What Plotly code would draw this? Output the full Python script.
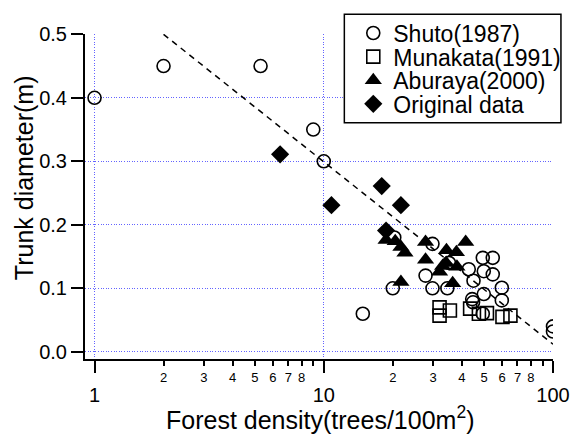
import plotly.graph_objects as go

# ---- data ----
shuto_x = [1, 2, 5.3, 9, 10, 14.8, 20, 20.3, 27.8, 29.8, 29.8, 34.6, 35.2, 42.9, 45, 44.4, 44.8,
           49.9, 49.9, 49.4, 49.4, 54.6, 54.6, 59.8, 59.8, 100, 100]
shuto_y = [0.40, 0.45, 0.45, 0.35, 0.30, 0.06, 0.10, 0.18, 0.12, 0.17, 0.10, 0.10, 0.14, 0.13, 0.112, 0.083, 0.078,
           0.127, 0.091, 0.148, 0.060, 0.148, 0.122, 0.101, 0.081, 0.040, 0.032]

munakata_x = [32.0, 32.0, 35.5, 43.5, 47.5, 51.5, 60.2, 65.2]
munakata_y = [0.070, 0.057, 0.065, 0.068, 0.060, 0.061, 0.055, 0.057]

aburaya_x = [18.7, 20.5, 21.7, 22.6, 21.7, 27.8, 27.8, 34.3, 37.9, 41.6, 34.2, 32.0, 38.1, 36.5, 33.0]
aburaya_y = [0.176, 0.174, 0.165, 0.156, 0.110, 0.173, 0.145, 0.160, 0.157, 0.173, 0.140, 0.126, 0.134, 0.108, 0.135]

orig_x = [6.45, 10.8, 17.9, 21.7, 18.7]
orig_y = [0.311, 0.231, 0.261, 0.231, 0.191]

fit_x = [2, 100]
fit_y = [0.50, 0.012]

series_names = ["Shuto(1987)", "Munakata(1991)", "Aburaya(2000)", "Original data"]

major_ticks = [1, 10, 100]
major_text = ["1", "10", "100"]
minor_ticks = [2, 3, 4, 5, 6, 7, 8, 9, 20, 30, 40, 50, 60, 70, 80, 90]
minor_text = ["2", "3", "4", "5", "6", "7", "8", "", "2", "3", "4", "5", "6", "7", "8", ""]
y_ticks = [0.0, 0.1, 0.2, 0.3, 0.4, 0.5]
y_text = ["0.0", "0.1", "0.2", "0.3", "0.4", "0.5"]

FONT = "Arial, Liberation Sans, sans-serif"
GRID = "rgb(100,100,255)"

# plot-area geometry in pixels (used to place legend rows / titles)
L, R, T, B = 85, 26, 29, 80
W, H = 582, 439
PW, PH = W - L - R, H - T - B
def px_x(p):
    return (p - L) / PW
def px_y(p):
    return (H - B - p) / PH

fig = go.Figure()
fig.add_trace(go.Scatter(x=fit_x, y=fit_y, mode="lines", showlegend=False, hoverinfo="skip",
                         line=dict(color="black", width=1.5, dash="6px,5px")))
fig.add_trace(go.Scatter(x=shuto_x, y=shuto_y, mode="markers", name=series_names[0], legend="legend",
                         marker=dict(symbol="circle-open", size=13, color="black", line=dict(width=1.6))))
fig.add_trace(go.Scatter(x=munakata_x, y=munakata_y, mode="markers", name=series_names[1], legend="legend2",
                         marker=dict(symbol="square-open", size=13, color="black", line=dict(width=1.6))))
fig.add_trace(go.Scatter(x=aburaya_x, y=aburaya_y, mode="markers", name=series_names[2], legend="legend3",
                         marker=dict(symbol="triangle-up", size=15, color="black", line=dict(width=0))))
fig.add_trace(go.Scatter(x=orig_x, y=orig_y, mode="markers", name=series_names[3], legend="legend4",
                         marker=dict(symbol="diamond", size=14, color="black", line=dict(width=0))))
# helper trace so the minor-label axis is drawn
fig.add_trace(go.Scatter(x=[1, 100], y=[None, None], xaxis="x2", mode="markers",
                         showlegend=False, hoverinfo="skip"))

row_px = [28, 52, 76, 100]
leg_common = dict(xanchor="left", yanchor="middle", bgcolor="rgba(0,0,0,0)", borderwidth=0,
                  font=dict(size=23, family=FONT, color="black"))
legends = {}
for i, key in enumerate(["legend", "legend2", "legend3", "legend4"]):
    legends[key] = dict(x=px_x(355), y=px_y(row_px[i]), **leg_common)

xrange = [-0.0416, 2]
fig.update_layout(
    width=W, height=H,
    margin=dict(l=L, r=R, t=T, b=B),
    paper_bgcolor="white", plot_bgcolor="white",
    font=dict(family=FONT, color="black"),
    xaxis=dict(type="log", range=xrange, tickvals=major_ticks, ticktext=major_text,
               ticks="outside", ticklen=12, tickwidth=2, tickcolor="black",
               showline=True, linewidth=2, linecolor="black",
               showgrid=True, gridcolor=GRID, gridwidth=1.4, griddash="1px,1.6px",
               zeroline=False, tickfont=dict(size=20), ticklabelstandoff=5),
    xaxis2=dict(type="log", range=xrange, overlaying="x", anchor="y", side="bottom",
                tickvals=minor_ticks, ticktext=minor_text, ticks="outside", ticklen=6, tickwidth=1.5,
                tickcolor="black", showline=False, showgrid=False, zeroline=False,
                tickfont=dict(size=13)),
    yaxis=dict(range=[-0.0113, 0.5005], tickvals=y_ticks, ticktext=y_text,
               ticks="outside", ticklen=12, tickwidth=2, tickcolor="black",
               showline=True, linewidth=2, linecolor="black",
               showgrid=True, gridcolor=GRID, gridwidth=1.4, griddash="1px,1.6px",
               zeroline=False, tickfont=dict(size=20)),
    shapes=[dict(type="rect", xref="paper", yref="paper",
                 x0=px_x(346), x1=px_x(564), y0=px_y(119), y1=px_y(9),
                 line=dict(color="black", width=1.5), fillcolor="white", layer="above")],
    annotations=[
        dict(text="Trunk diameter(m)", textangle=-90, xref="paper", yref="paper",
             x=px_x(23), y=px_y(175), xanchor="center", yanchor="middle",
             showarrow=False, font=dict(size=25)),
        dict(text="Forest density(trees/100m<sup>2</sup>)", xref="paper", yref="paper",
             x=px_x(322), y=px_y(419), xanchor="center", yanchor="middle",
             showarrow=False, font=dict(size=25)),
    ],
    showlegend=True,
    **legends,
)

fig.write_html("out.html")
